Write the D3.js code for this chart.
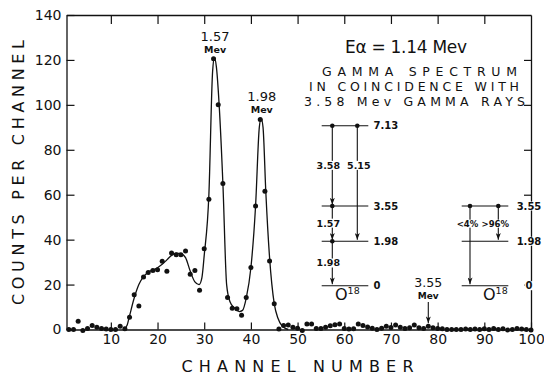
<!DOCTYPE html>
<html>
<head>
<meta charset="utf-8">
<script src="https://cdn.jsdelivr.net/npm/d3@7"></script>
<style>
  body { margin: 0; background: #fff; }
  svg { display: block; }
  text { font-family: "DejaVu Sans", sans-serif; fill: #111; }
</style>
</head>
<body>
<svg id="chart" width="544" height="377"></svg>
<script>
// counts per channel, channels 1..100
const counts = [
  0, 0, 3.7, -0.5, 0.5, 1.8, 1.0, 0.5, 0.2, 0,
  0, 1.5, 0.3, 5.5, 15.5, 10.5, 23.4, 25.4, 26.3, 26.6,
  30.4, 25.9, 34, 33.3, 33.3, 35, 24.6, 26.3, 17.5, 36,
  58, 120.5, 100, 65, 14.3, 9.5, 9.2, 6.3, 14.3, 27.6,
  55, 93.5, 61.5, 30.5, 11.5, 0.2, 1.8, 2, 1, 0.6,
  -0.4, 2.5, 2.5, 0.4, 0.4, 1, 1.7, 2.1, 2.5, 0.5,
  0.2, 0.3, 2.5, 1.8, 1.1, 0.6, 0, 0.6, 1.5, 0.9,
  2, 1, 0.5, 0.8, 2, 0.8, 0.5, 1.5, 0.8, 0.5,
  0.3, 0, 0, 0, 0, 0.2, 0, 0.2, 0, 0.3,
  0, 0.5, 0, 0.3, -0.2, 0, 0.5, 0.2, 0, -0.2
];

// hand-drawn fit through the points
const fitChannels = [12.8, 13.5, 14, 15, 16, 17, 18, 19, 20, 21, 22, 23, 24, 25, 26, 27, 28, 28.9, 29.5, 30,
  31, 31.8, 32.2, 32.6, 33.2, 34, 34.8, 35.5, 36.5, 37.5, 38.2, 39, 40, 41, 41.8, 42.2, 42.6, 43.2, 44, 45,
  45.8, 46.7, 48];
const fitCounts = [0, 2, 6, 14, 20, 23.5, 25.5, 26.5, 27.5, 29, 31, 33, 34, 33.8, 32, 26, 21.2, 20, 23, 33,
  60, 115, 121, 117, 100, 65, 20, 12.5, 9.5, 8, 8.5, 14, 27.5, 55, 90, 94, 90, 61, 32, 11.5,
  5, 1.5, 0];

const xTicks = [10, 20, 30, 40, 50, 60, 70, 80, 90, 100];
const yTicks = [0, 20, 40, 60, 80, 100, 120, 140];
const topTicks = [10, 20, 30, 40, 50, 60, 70, 80, 90];
const rightTicks = [20, 40, 60, 80, 100, 120];

const peakChannels = [32, 42];
const peakCounts = [120.5, 93.5];
const peakNames = ["1.57", "1.98"];

// level schemes (Mev)
const leftLevels = [7.13, 3.55, 1.98, 0];
const leftLevelNames = ["7.13", "3.55", "1.98", "0"];
const leftFrom = [7.13, 7.13, 3.55, 1.98];
const leftTo = [3.55, 1.98, 1.98, 0];
const leftColumn = [0, 1, 0, 0];
const leftNames = ["3.58", "5.15", "1.57", "1.98"];

const rightLevels = [3.55, 1.98, 0];
const rightLevelNames = ["3.55", "1.98", "0"];
const rightFrom = [3.55, 3.55];
const rightTo = [0, 1.98];
const rightColumn = [0, 1];
const rightNames = ["<4%", ">96%"];

const markerChannel = 78;

const svg = d3.select("#chart");
const ink = "#111";

const x = d3.scaleLinear().domain([0.5, 100]).range([66.5, 531]);
const y = d3.scaleLinear().domain([0, 140]).range([329.5, 15]);

svg.append("defs").append("marker")
  .attr("id", "arrow")
  .attr("viewBox", "0 0 8 6")
  .attr("refX", 8).attr("refY", 3)
  .attr("markerWidth", 7).attr("markerHeight", 5)
  .attr("markerUnits", "userSpaceOnUse")
  .attr("orient", "auto")
  .append("path")
  .attr("d", "M0,0 L8,3 L0,6 L2,3 Z")
  .attr("fill", ink);

// axes, all ticks pointing inward
function styleAxis(g) {
  g.select(".domain").attr("stroke", ink).attr("stroke-width", 1.3);
  g.selectAll(".tick line").attr("stroke", ink).attr("stroke-width", 1.2);
  g.selectAll(".tick text").attr("font-size", 14).attr("fill", ink)
    .attr("font-family", "DejaVu Sans, sans-serif");
}

svg.append("g").attr("transform", "translate(0,329.5)")
  .call(d3.axisBottom(x).tickValues(xTicks).tickSize(-7).tickSizeOuter(0).tickPadding(5))
  .call(styleAxis);
svg.append("g").attr("transform", "translate(66.5,0)")
  .call(d3.axisLeft(y).tickValues(yTicks).tickSize(-8).tickSizeOuter(0).tickPadding(5))
  .call(styleAxis);
svg.append("g").attr("transform", "translate(0,15)")
  .call(d3.axisTop(x).tickValues(topTicks).tickSize(-9).tickSizeOuter(0).tickFormat(""))
  .call(styleAxis);
svg.append("g").attr("transform", "translate(531,0)")
  .call(d3.axisRight(y).tickValues(rightTicks).tickSize(-7).tickSizeOuter(0).tickFormat(""))
  .call(styleAxis);

// axis titles
svg.append("text")
  .attr("x", 181.5).attr("y", 371.5)
  .attr("font-size", 16)
  .attr("textLength", 232).attr("lengthAdjust", "spacing")
  .text("CHANNEL NUMBER");

svg.append("text")
  .attr("transform", "translate(24,172.5) rotate(-90)")
  .attr("text-anchor", "middle")
  .attr("font-size", 16)
  .attr("textLength", 265).attr("lengthAdjust", "spacing")
  .text("COUNTS PER CHANNEL");

// fitted curve
const fit = fitChannels.map((c, i) => [c, fitCounts[i]]);
svg.append("path")
  .datum(fit)
  .attr("fill", "none")
  .attr("stroke", ink)
  .attr("stroke-width", 1.3)
  .attr("d", d3.line().x(d => x(d[0])).y(d => y(d[1])).curve(d3.curveMonotoneX));

// data points
svg.append("g").selectAll("circle")
  .data(counts)
  .join("circle")
  .attr("cx", (d, i) => x(i + 1))
  .attr("cy", d => y(d))
  .attr("r", 2.5)
  .attr("fill", ink);

// peak labels
peakChannels.forEach((c, i) => {
  const px = x(c) + 1.5, py = y(peakCounts[i]);
  svg.append("text").attr("x", px).attr("y", py - 18).attr("text-anchor", "middle")
    .attr("font-size", 13).text(peakNames[i]);
  svg.append("text").attr("x", px).attr("y", py - 6).attr("text-anchor", "middle")
    .attr("font-size", 9.5).attr("font-weight", "bold").text("Mev");
});

// title block
svg.append("text").attr("x", 345).attr("y", 53).attr("font-size", 17)
  .attr("textLength", 122).attr("lengthAdjust", "spacing")
  .text("E\u03b1 = 1.14 Mev");
svg.append("text").attr("x", 322).attr("y", 76).attr("font-size", 12.5)
  .attr("textLength", 195).attr("lengthAdjust", "spacing")
  .text("GAMMA SPECTRUM");
svg.append("text").attr("x", 309).attr("y", 90.5).attr("font-size", 12.5)
  .attr("textLength", 210).attr("lengthAdjust", "spacing")
  .text("IN COINCIDENCE WITH");
svg.append("text").attr("x", 304).attr("y", 106).attr("font-size", 12.5)
  .attr("textLength", 221).attr("lengthAdjust", "spacing")
  .text("3.58 Mev GAMMA RAYS");

// level diagrams
const e = d3.scaleLinear().domain([0, 7.13]).range([285.7, 125.7]);

function labelWithBg(g, tx, ty, txt, anchor, size) {
  const t = g.append("text").attr("x", tx).attr("y", ty).attr("text-anchor", anchor)
    .attr("font-size", size).attr("font-weight", "bold").text(txt);
  const b = t.node().getBBox();
  g.insert("rect", () => t.node())
    .attr("x", b.x - 1).attr("y", b.y + 1).attr("width", b.width + 2).attr("height", b.height - 2)
    .attr("fill", "#fff");
  return t;
}

function scheme(x0, x1, cols, levels, levelNames, from, to, column, names, nameX, nameAnchor, nameDx, oX, nameSize) {
  const g = svg.append("g");
  levels.forEach((lv, i) => {
    g.append("line").attr("x1", x0).attr("x2", x1).attr("y1", e(lv)).attr("y2", e(lv))
      .attr("stroke", ink).attr("stroke-width", 1.1);
  });
  from.forEach((f, i) => {
    const cx = cols[column[i]];
    g.append("line").attr("x1", cx).attr("x2", cx)
      .attr("y1", e(f)).attr("y2", e(to[i]) - 1.5)
      .attr("stroke", ink).attr("stroke-width", 1.1)
      .attr("marker-end", "url(#arrow)");
    g.append("circle").attr("cx", cx).attr("cy", e(f)).attr("r", 2.3).attr("fill", ink);
  });
  from.forEach((f, i) => {
    const below = levels.filter(l => l < f)[0];
    const ly = (e(f) + e(below)) / 2 + 3;
    labelWithBg(g, cols[column[i]] + nameDx[column[i]], ly, names[i], "middle", nameSize);
  });
  levels.forEach((lv, i) => {
    labelWithBg(g, nameX, e(lv) + 3.5, levelNames[i], nameAnchor, 10);
  });
  const o = g.append("text").attr("x", oX).attr("y", 300).attr("font-size", 16);
  o.append("tspan").text("O");
  o.append("tspan").attr("font-size", 9.5).attr("dy", -6).text("18");
}

scheme(321.7, 368.3, [332.3, 357.3], leftLevels, leftLevelNames, leftFrom, leftTo, leftColumn,
  leftNames, 373.5, "start", [-4, 1.5], 335, 9.5);
scheme(461.7, 508.3, [470, 498.3], rightLevels, rightLevelNames, rightFrom, rightTo, rightColumn,
  rightNames, 529, "middle", [-2.5, -3], 483, 8.5);

// 3.55 Mev marker on the spectrum
const mx = x(markerChannel);
svg.append("text").attr("x", mx).attr("y", 287).attr("text-anchor", "middle")
  .attr("font-size", 12.5).text("3.55");
svg.append("text").attr("x", mx).attr("y", 299).attr("text-anchor", "middle")
  .attr("font-size", 9).attr("font-weight", "bold").text("Mev");
svg.append("line").attr("x1", mx).attr("x2", mx).attr("y1", 302).attr("y2", y(counts[markerChannel - 1]) - 3)
  .attr("stroke", ink).attr("stroke-width", 1.1).attr("marker-end", "url(#arrow)");
</script>
</body>
</html>
